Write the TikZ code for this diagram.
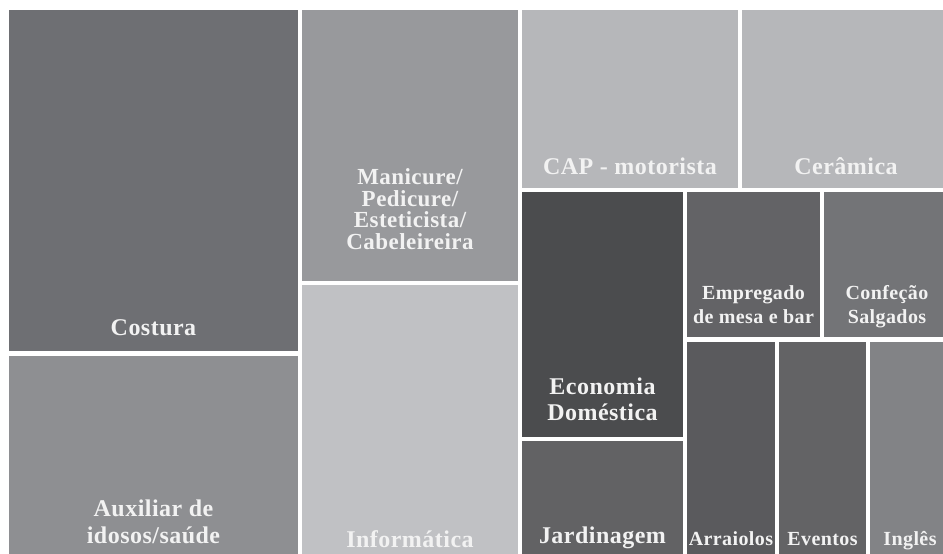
\documentclass[tikz,border=0pt]{standalone}
\usepackage{fontspec}
\setmainfont{Liberation Serif}[LetterSpace=2]
\usetikzlibrary{positioning}

\definecolor{gCostura}{HTML}{6E6F73}
\definecolor{gAuxiliar}{HTML}{8E8F92}
\definecolor{gManicure}{HTML}{98999C}
\definecolor{gInformatica}{HTML}{C0C1C4}
\definecolor{gCap}{HTML}{B6B7BA}
\definecolor{gEconomia}{HTML}{4B4C4E}
\definecolor{gJardim}{HTML}{626264}
\definecolor{gEmpregado}{HTML}{636366}
\definecolor{gConfecao}{HTML}{737477}
\definecolor{gArraiolos}{HTML}{5A5A5D}
\definecolor{gEventos}{HTML}{636365}
\definecolor{gIngles}{HTML}{828386}
\definecolor{labeltext}{HTML}{F2F2F2}

\begin{document}
\begin{tikzpicture}[x=1pt, y=-1pt,
    lbl/.style={text=labeltext, font=\bfseries\fontsize{24}{26}\selectfont, align=center, anchor=base, inner sep=0pt},
    small/.style={lbl, font=\bfseries\fontsize{20}{23.5}\selectfont}]
    \clip (0,0) rectangle (943,554);
    % tiles
    \fill[gCostura]     (9,10)    rectangle (298,351);
    \fill[gAuxiliar]    (9,356)   rectangle (298,560);
    \fill[gManicure]    (302,10)  rectangle (518,281);
    \fill[gInformatica] (302,285) rectangle (518,560);
    \fill[gCap]         (522,10)  rectangle (738,188);
    \fill[gCap]         (742,10)  rectangle (950,188);
    \fill[gEconomia]    (522,192) rectangle (683,437);
    \fill[gJardim]      (522,441) rectangle (683,560);
    \fill[gEmpregado]   (687,192) rectangle (820,337);
    \fill[gConfecao]    (824,192) rectangle (950,337);
    \fill[gArraiolos]   (687,342) rectangle (775,560);
    \fill[gEventos]     (779,342) rectangle (866,560);
    \fill[gIngles]      (870,342) rectangle (950,560);
    % labels (base = last line)
    \node[lbl] (costura) at (153.5,335) {Costura};
    \node[lbl, font=\bfseries\fontsize{24}{27}\selectfont] (auxiliar) at (153.5,543) {Auxiliar de\\idosos/saúde};
    \node[lbl, font=\bfseries\fontsize{23}{21.5}\selectfont] (manicure) at (410,249) {Manicure/\\Pedicure/\\Esteticista/\\Cabeleireira};
    \node[lbl] (informatica) at (410,547) {Informática};
    \node[lbl] (cap) at (630,174) {CAP - motorista};
    \node[lbl] (ceramica) at (846,174) {Cerâmica};
    \node[lbl] (economia) at (602.5,420) {Economia\\Doméstica};
    \node[lbl] (jardinagem) at (602.5,543) {Jardinagem};
    \node[small] (empregado) at (753.5,323) {Empregado\\de mesa e bar};
    \node[small] (confecao) at (887,323) {Confeção\\Salgados};
    \node[small] (arraiolos) at (731,545) {Arraiolos};
    \node[small] (eventos) at (822.5,545) {Eventos};
    \node[small] (ingles) at (910,545) {Inglês};
\end{tikzpicture}
\end{document}
